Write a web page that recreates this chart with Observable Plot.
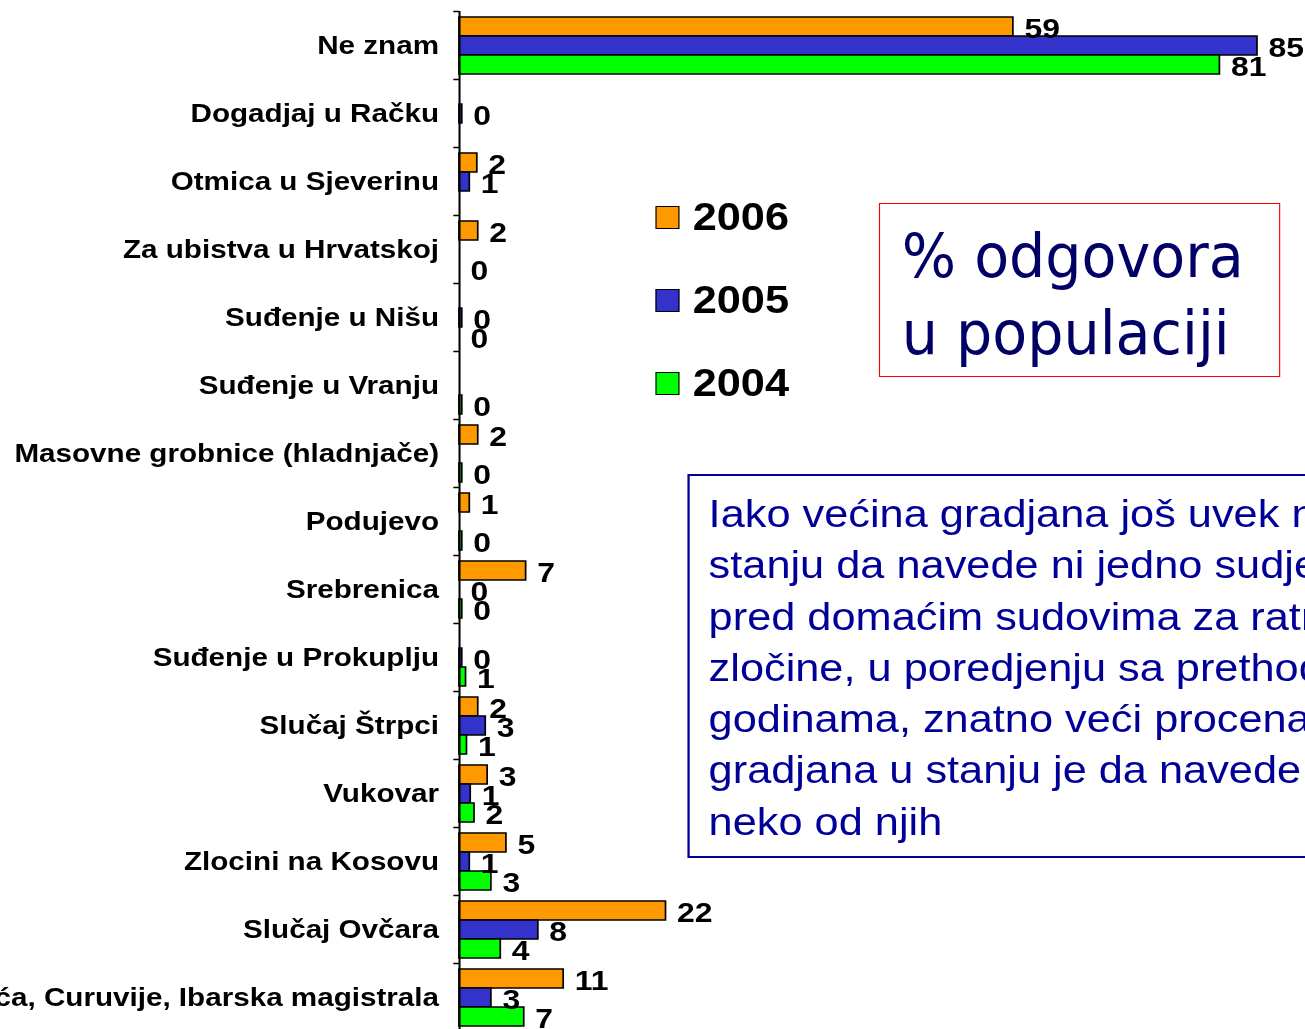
<!DOCTYPE html>
<html>
<head>
<meta charset="utf-8">
<script src="https://cdn.jsdelivr.net/npm/d3@7"></script>
<script src="https://cdn.jsdelivr.net/npm/@observablehq/plot@0.6"></script>
<style>
  html, body { margin: 0; padding: 0; background: #fff; overflow: hidden; width: 1305px; height: 1029px; }
  #stage { position: absolute; left: 0; top: 0; width: 1145px; height: 1029px; transform: scale(1.14, 1); transform-origin: 0 0; }
  #chart { position: absolute; left: 0; top: 0; }
  .legend-row { position: absolute; left: 574.6px; height: 40px; display: flex; align-items: center; font-family: "Liberation Sans", Arial, sans-serif; font-weight: bold; font-size: 38px; color: #000; }
  .legend-row .sw { width: 19px; height: 21px; border: 1px solid #000; margin-right: 12px; }
  #redbox { position: absolute; left: 771px; top: 203px; width: 350px; height: 172px; border: 1.5px solid #ff0000; box-sizing: content-box; }
  #redbox .txt { position: absolute; left: 19px; top: 14px; font-family: "DejaVu Sans", Verdana, sans-serif; font-size: 60px; line-height: 77px; color: #000066; white-space: pre; transform: scale(0.835, 1); transform-origin: 0 0; }
  #bluebox { position: absolute; left: 602.6px; top: 474px; width: 700px; height: 380px; border: 2px solid #000099; }
  #bluebox .txt { position: absolute; left: 17px; top: 13px; font-family: "Liberation Sans", Arial, sans-serif; font-size: 38px; line-height: 51.3px; color: #000099; white-space: pre; }
</style>
</head>
<body>
<div id="stage">
  <div id="chart"></div>
  <div id="legend"></div>
  <div id="redbox"><div class="txt"></div></div>
  <div id="bluebox"><div class="txt"></div></div>
</div>
<script>
const categories = [
  "Ne znam",
  "Dogadjaj u Račku",
  "Otmica u Sjeverinu",
  "Za ubistva u Hrvatskoj",
  "Suđenje u Nišu",
  "Suđenje u Vranju",
  "Masovne grobnice (hladnjače)",
  "Podujevo",
  "Srebrenica",
  "Suđenje u Prokuplju",
  "Slučaj Štrpci",
  "Vukovar",
  "Zlocini na Kosovu",
  "Slučaj Ovčara",
  "Ubistva Stambolića, Curuvije, Ibarska magistrala"
];
const years = ["2006", "2005", "2004"];
const colors = ["#ff9900", "#3333cc", "#00ff00"];
const v2006 = [59, null, 1.9, 2, null, null, 2, 1.1, 7.1, null, 2, 3, 5, 22, 11.1];
const v2005 = [85, 0.3, 1.1, null, 0.3, null, null, null, 0, 0.3, 2.8, 1.2, 1.1, 8.4, 3.4];
const v2004 = [81, null, null, 0, 0, 0.3, 0.3, 0.3, 0.3, 0.7, 0.8, 1.6, 3.4, 4.4, 6.9];
const boxTitle = ["% odgovora", "u populaciji"];
const noteLines = [
  "Iako većina gradjana još uvek nije u",
  "stanju da navede ni jedno sudjenje",
  "pred domaćim sudovima za ratne",
  "zločine, u poredjenju sa prethodnim",
  "godinama, znatno veći procenat",
  "gradjana u stanju je da navede bar",
  "neko od njih"
];

const series = [v2006, v2005, v2004];
const data = [];
categories.forEach((c, i) => {
  years.forEach((y, j) => {
    const v = series[j][i];
    if (v !== null && v !== undefined) data.push({category: c, year: y, value: v});
  });
});

const font = '"Liberation Sans", Arial, sans-serif';

const chart = Plot.plot({
  width: 1145,
  height: 1031,
  marginLeft: 402.6,
  marginRight: 42.4,
  marginTop: 11,
  marginBottom: 0,
  style: {fontFamily: font, background: "transparent", overflow: "visible"},
  x: {domain: [0, 85], axis: null},
  y: {domain: years, axis: null, paddingInner: 0, paddingOuter: 0.289},
  fy: {domain: categories, axis: null, padding: 0},
  color: {domain: years, range: colors},
  marks: [
    Plot.barX(data, {fy: "category", y: "year", x: "value", fill: "year", stroke: "#000", strokeWidth: 1.5, insetTop: 0, insetBottom: 0}),
    Plot.text(data, {fy: "category", y: "year", x: "value", text: d => String(Math.round(d.value)), textAnchor: "start", dx: 9.6, dy: 2, fontSize: 28, fontWeight: "bold", fill: "#000"}),
    Plot.ruleX([0], {stroke: "#000", strokeWidth: 1.8}),
    Plot.axisFy({anchor: "left", tickSize: 0, tickPadding: 18, fontSize: 26, fontWeight: "bold", fill: "#000", label: null}),
    Plot.axisFy({anchor: "left", tickSize: 5, tickFormat: () => "", dy: -34, stroke: "#000", strokeWidth: 1.5, label: null})
  ]
});
document.getElementById("chart").appendChild(chart);

// legend
const legend = document.getElementById("legend");
const legendCenters = [217, 300, 383];
years.forEach((y, j) => {
  const row = document.createElement("div");
  row.className = "legend-row";
  row.style.top = (legendCenters[j] - 20) + "px";
  const sw = document.createElement("div");
  sw.className = "sw";
  sw.style.background = colors[j];
  const t = document.createElement("span");
  t.textContent = y;
  row.appendChild(sw);
  row.appendChild(t);
  legend.appendChild(row);
});

document.querySelector("#redbox .txt").textContent = boxTitle.join("\n");
document.querySelector("#bluebox .txt").textContent = noteLines.join("\n");
</script>
</body>
</html>
